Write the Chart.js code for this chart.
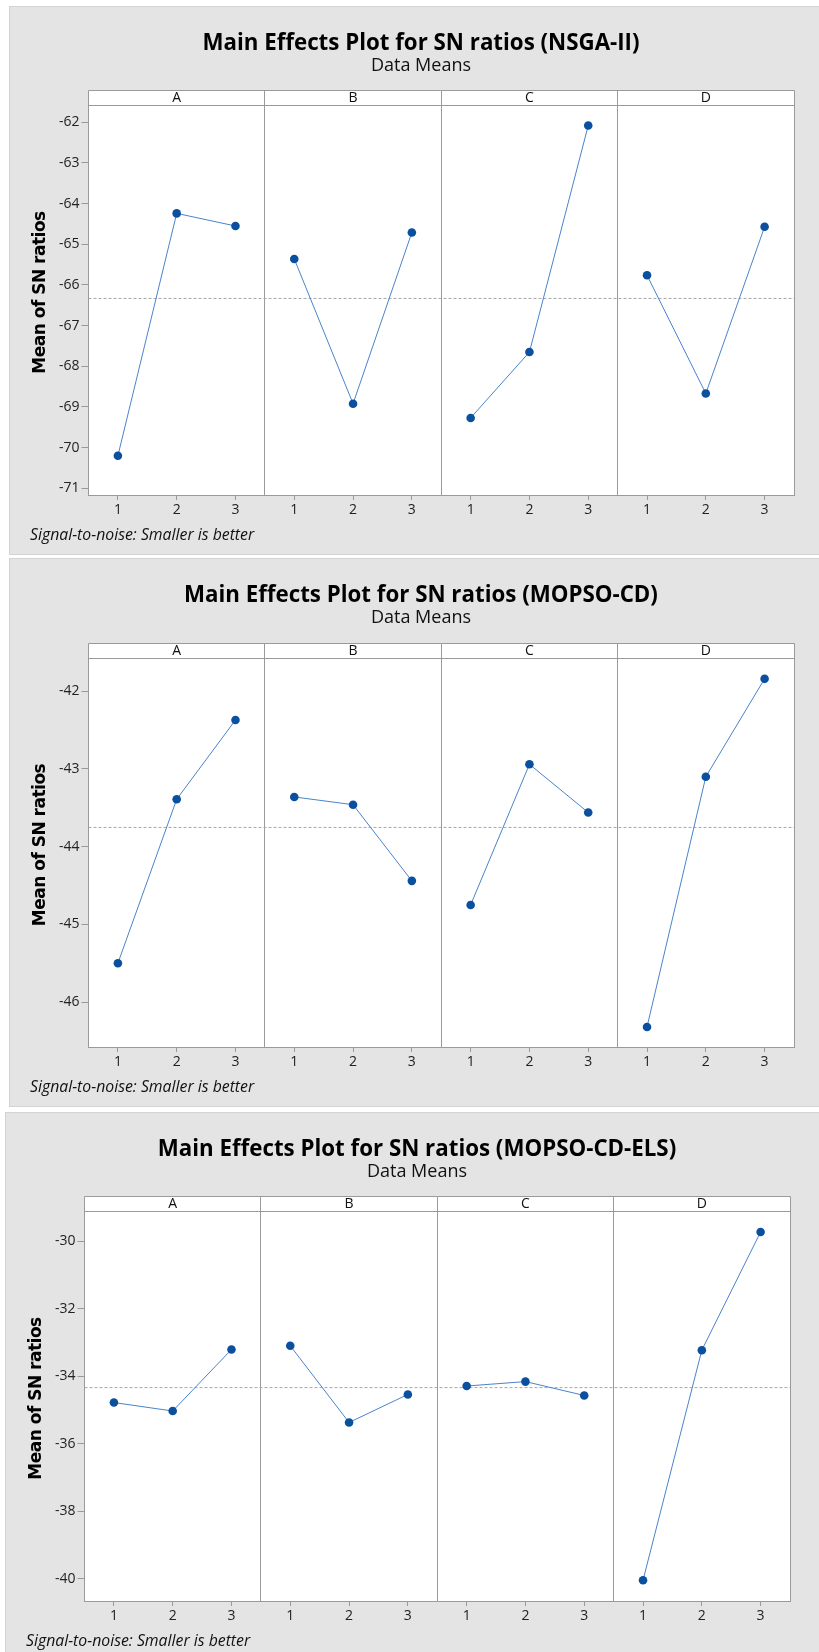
<!DOCTYPE html>
<html>
<head>
<meta charset="utf-8">
<script src="https://cdn.jsdelivr.net/npm/chart.js@4.4.1/dist/chart.umd.min.js"></script>
<style>
html,body{margin:0;padding:0;background:#fff;overflow:hidden;width:819px;height:1652px;}
.panel{position:absolute;background:#e4e4e4;border:1px solid #d3d3d3;box-sizing:border-box;overflow:hidden;}
.panel canvas{position:absolute;left:-1px;top:-1px;}
.ttl{position:absolute;left:-1px;width:824px;text-align:center;white-space:nowrap;color:#000;font-family:'Open Sans';}
.main{font-weight:bold;font-size:22.3px;line-height:22px;top:24px;}
.sub{font-size:18px;line-height:18px;top:48px;color:#111;}
.note{position:absolute;left:20px;top:519px;font-family:'Open Sans';font-style:italic;font-size:15.8px;line-height:16px;color:#111;white-space:nowrap;}
</style>
</head>
<body>
<div id="root"></div>
<script>
// ---------- data ----------
const FACTORS = ['A', 'B', 'C', 'D'];
const LEVELS = ['1', '2', '3'];
const TITLES = [
  'Main Effects Plot for SN ratios (NSGA-II)',
  'Main Effects Plot for SN ratios (MOPSO-CD)',
  'Main Effects Plot for SN ratios (MOPSO-CD-ELS)'
];
const SUBTITLE = 'Data Means';
const Y_TITLE = 'Mean of SN ratios';
const NOTE = 'Signal-to-noise: Smaller is better';

// means of SN ratios, factor A..D, levels 1..3
const nsga2A = [-70.20, -64.24, -64.55];
const nsga2B = [-65.36, -68.92, -64.71];
const nsga2C = [-69.27, -67.65, -62.08];
const nsga2D = [-65.76, -68.67, -64.57];

const mopsoA = [-45.50, -43.39, -42.37];
const mopsoB = [-43.36, -43.46, -44.44];
const mopsoC = [-44.75, -42.94, -43.56];
const mopsoD = [-46.32, -43.10, -41.84];

const elsA = [-34.78, -35.03, -33.21];
const elsB = [-33.10, -35.37, -34.54];
const elsC = [-34.29, -34.16, -34.57];
const elsD = [-40.04, -33.23, -29.73];

// y axis ranges and tick steps
const Y_MIN = [-71.165, -46.578, -40.654];
const Y_MAX = [-61.575, -41.572, -29.11];
const Y_STEP = [1, 1, 2];

const SERIES = [
  [nsga2A, nsga2B, nsga2C, nsga2D],
  [mopsoA, mopsoB, mopsoC, mopsoD],
  [elsA, elsB, elsC, elsD]
];

// ---------- layout ----------
const PANELS = [
  {left: 9, top: 6, height: 549},
  {left: 9, top: 558, height: 549},
  {left: 5, top: 1112, height: 560}
];
const CW = 824, CH = 549;
const STRIP_H = 15;
const LINE_GRAY = '#9a9a9a';

const facetPlugin = {
  id: 'facets',
  beforeDraw(chart) {
    const {ctx, chartArea: a} = chart;
    ctx.save();
    ctx.fillStyle = '#ffffff';
    ctx.fillRect(a.left, a.top - STRIP_H, a.right - a.left, a.bottom - a.top + STRIP_H);
    ctx.restore();
  },
  beforeDatasetsDraw(chart) {
    const {ctx, chartArea: a, scales: {x}} = chart;
    const px = v => Math.round(v - 0.5) + 0.5;
    const top = a.top - STRIP_H;
    ctx.save();
    ctx.strokeStyle = LINE_GRAY;
    ctx.lineWidth = 1;
    ctx.beginPath();
    ctx.moveTo(px(a.left), px(top)); ctx.lineTo(px(a.right), px(top));
    ctx.lineTo(px(a.right), px(a.bottom));
    ctx.moveTo(px(a.left), px(a.top)); ctx.lineTo(px(a.right), px(a.top));
    ctx.moveTo(px(a.left), px(top)); ctx.lineTo(px(a.left), px(a.top));
    for (let f = 1; f < FACTORS.length; f++) {
      const xp = px(x.getPixelForValue(f * LEVELS.length));
      ctx.moveTo(xp, px(top)); ctx.lineTo(xp, px(a.bottom));
    }
    ctx.stroke();
    ctx.fillStyle = '#111';
    ctx.font = '14px "Open Sans"';
    ctx.textAlign = 'center';
    ctx.textBaseline = 'middle';
    FACTORS.forEach((f, i) => {
      ctx.fillText(f, x.getPixelForValue(i * LEVELS.length + LEVELS.length / 2), (top + a.top) / 2 + 0.5);
    });
    ctx.translate(32, (top + a.bottom) / 2);
    ctx.rotate(-Math.PI / 2);
    ctx.font = 'bold 17px "DejaVu Sans"';
    if ('letterSpacing' in ctx) ctx.letterSpacing = '-0.5px';
    ctx.fillStyle = '#000';
    ctx.fillText(Y_TITLE, 0, 0);
    ctx.restore();
  }
};

const root = document.getElementById('root');

PANELS.forEach((p, k) => {
  const div = document.createElement('div');
  div.className = 'panel';
  div.style.left = p.left + 'px';
  div.style.top = p.top + 'px';
  div.style.width = (819 - p.left + 20) + 'px';
  div.style.height = p.height + 'px';
  root.appendChild(div);

  const canvas = document.createElement('canvas');
  canvas.width = CW; canvas.height = CH;
  canvas.style.width = CW + 'px'; canvas.style.height = CH + 'px';
  div.appendChild(canvas);

  const t = document.createElement('div'); t.className = 'ttl main'; t.textContent = TITLES[k]; div.appendChild(t);
  const s = document.createElement('div'); s.className = 'ttl sub'; s.textContent = SUBTITLE; div.appendChild(s);
  const n = document.createElement('div'); n.className = 'note'; n.textContent = NOTE; div.appendChild(n);

  const series = SERIES[k];
  const all = series.flat();
  const grand = all.reduce((q, v) => q + v, 0) / all.length;
  const nL = LEVELS.length;
  const xMax = FACTORS.length * nL;

  const datasets = series.map((vals, f) => ({
    label: FACTORS[f],
    data: vals.map((v, l) => ({x: f * nL + l + 0.5, y: v})),
    borderColor: '#4a84cc',
    borderWidth: 1,
    pointRadius: 4.3,
    pointBackgroundColor: '#0b4f9f',
    pointBorderColor: '#0b4f9f',
    pointBorderWidth: 0,
    tension: 0,
    order: 0
  }));
  datasets.push({
    label: 'mean',
    data: [{x: 0, y: grand}, {x: xMax, y: grand}],
    borderColor: '#a8a8a8',
    borderWidth: 1,
    borderDash: [3, 2],
    pointRadius: 0,
    order: 5
  });

  const tickPos = [];
  for (let f = 0; f < FACTORS.length; f++) for (let l = 0; l < nL; l++) tickPos.push(f * nL + l + 0.5);

  new Chart(canvas, {
    type: 'line',
    data: {datasets},
    plugins: [facetPlugin],
    options: {
      responsive: false,
      animation: false,
      devicePixelRatio: 1,
      layout: {padding: {left: 0, right: CW - 785, top: 99 + (k === 1 ? 1 : 0), bottom: 0}},
      plugins: {legend: {display: false}, tooltip: {enabled: false}, title: {display: false}},
      scales: {
        x: {
          type: 'linear', min: 0, max: xMax,
          afterBuildTicks: sc => { sc.ticks = tickPos.map(v => ({value: v})); },
          afterFit: sc => { sc.height = CH - 489; },
          grid: {drawOnChartArea: false, tickLength: 5, color: LINE_GRAY},
          border: {display: true, color: LINE_GRAY},
          ticks: {
            autoSkip: false, maxRotation: 0, padding: 2, color: '#222',
            font: {family: 'Open Sans', size: 14},
            callback: v => LEVELS[Math.floor(v) % nL]
          }
        },
        y: {
          type: 'linear', min: Y_MIN[k], max: Y_MAX[k],
          afterFit: sc => { sc.width = 79.5; },
          grid: {drawOnChartArea: false, tickLength: 7, color: LINE_GRAY},
          border: {display: true, color: LINE_GRAY},
          ticks: {
            stepSize: Y_STEP[k], includeBounds: false, padding: 2, color: '#222',
            font: {family: 'Open Sans', size: 14}
          }
        }
      }
    }
  });
});
</script>
</body>
</html>
